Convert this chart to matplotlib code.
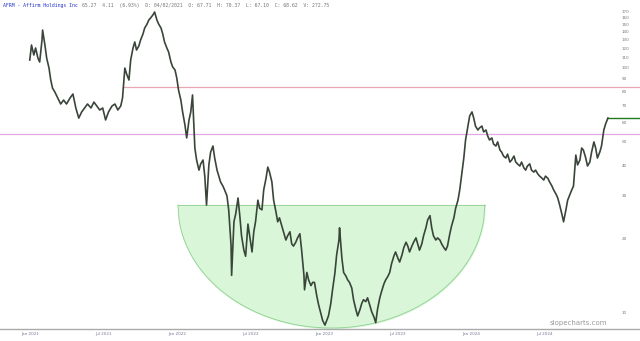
import numpy as np
import matplotlib
matplotlib.use('Agg')
import matplotlib.pyplot as plt

# торговые дни от начала ряда и цены закрытия
bar = [0, 3, 7, 10, 14, 17, 21, 22, 26, 29, 33, 36, 39, 43, 48, 53, 58, 63, 69, 74,
       79, 84, 89, 94, 99, 105, 110, 115, 120, 125, 130, 135, 141, 146, 151, 156, 159,
       163, 166, 170, 173, 177, 180, 183, 187, 190, 194, 197, 201, 204, 207, 211, 214,
       218, 221, 225, 228, 231, 235, 238, 242, 245, 249, 252, 255, 259, 262, 266, 269,
       273, 276, 279, 283, 286, 290, 293, 297, 300, 303, 307, 310, 314, 317, 321, 324,
       327, 331, 334, 338, 341, 345, 346, 350, 353, 357, 360, 363, 367, 370, 374, 377,
       381, 384, 387, 391, 394, 398, 401, 405, 408, 411, 415, 418, 422, 425, 428, 432,
       435, 439, 442, 446, 449, 452, 456, 459, 463, 466, 470, 471, 475, 478, 482, 485,
       488, 492, 495, 499, 502, 506, 509, 512, 516, 519, 523, 526, 530, 531, 535, 538,
       542, 545, 548, 552, 555, 559, 562, 566, 569, 572, 576, 579, 583, 586, 590, 593,
       596, 600, 603, 607, 610, 614, 617, 620, 624, 627, 631, 634, 638, 641, 645, 648,
       651, 655, 658, 662, 665, 668, 672, 675, 679, 682, 686, 689, 692, 696, 699, 703,
       706, 710, 713, 716, 720, 723, 727, 730, 734, 737, 740, 744, 747, 751, 754, 758,
       761, 764, 768, 771, 775, 778, 782, 785, 788, 792, 795, 799, 802, 806, 809, 812,
       816, 819, 823, 826, 830, 833, 836, 840, 843, 847, 850, 853, 857, 860, 864, 867,
       871, 874, 878, 881, 884, 888, 891, 895, 898, 902, 905, 908, 912, 915, 919, 922,
       925, 929, 932, 936, 939, 943, 946, 949, 953, 956, 960, 963, 967, 970, 973, 977,
       980, 984, 987, 991]

close = [107.5, 123.8, 112.7, 120.4, 109.5, 105.5, 129.8, 142.5, 123.8, 109.5, 99.7,
         89.1, 82.6, 79.6, 75.2, 71.1, 73.8, 71.1, 75.2, 78.1, 68.5, 62.3, 66.0, 68.5,
         71.1, 68.5, 72.4, 69.8, 67.2, 68.5, 61.2, 66.0, 69.8, 71.1, 67.2, 69.8, 75.2,
         99.7, 94.3, 89.1, 107.5, 120.4, 127.4, 118.1, 122.7, 129.8, 137.2, 145.2, 150.7,
         156.5, 159.5, 164.1, 168.8, 156.5, 150.7, 145.2, 137.2, 127.4, 120.4, 115.9,
         105.5, 100.7, 97.9, 90.8, 81.1, 73.8, 66.0, 58.4, 51.7, 61.2, 66.0, 77.4, 47.0,
         42.0, 38.2, 40.5, 42.0, 36.1, 27.5, 40.1, 45.2, 47.9, 42.8, 38.2, 36.1, 34.2,
         32.9, 31.7, 30.0, 26.3, 18.9, 14.2, 23.5, 25.3, 29.4, 24.9, 20.6, 18.0, 17.0,
         23.0, 20.6, 17.7, 21.4, 23.5, 28.8, 26.7, 26.3, 31.7, 35.4, 39.3, 37.5, 34.2,
         28.8, 25.8, 23.5, 24.4, 22.6, 21.4, 19.8, 20.6, 21.4, 19.1, 18.7, 19.4, 20.2,
         21.0, 18.0, 14.2, 12.4, 14.6, 13.6, 12.9, 13.3, 13.3, 11.7, 10.8, 9.9, 9.3, 8.9,
         9.3, 9.7, 10.9, 12.4, 14.5, 17.2, 19.8, 22.2, 16.7, 14.6, 14.1, 13.6, 13.3, 12.6,
         11.3, 10.3, 9.7, 10.3, 10.9, 11.3, 11.1, 11.5, 10.7, 10.1, 9.6, 9.1, 10.3, 11.5,
         12.2, 13.1, 13.6, 14.1, 14.6, 15.8, 17.0, 17.7, 16.7, 16.1, 17.2, 18.4, 19.4,
         18.7, 17.7, 18.7, 19.4, 20.2, 19.1, 18.0, 19.1, 20.6, 22.2, 23.9, 24.9, 22.2,
         20.6, 19.8, 20.2, 19.8, 19.1, 18.4, 18.0, 18.7, 21.0, 22.6, 24.4, 26.7, 28.8,
         31.7, 36.1, 42.8, 50.7, 57.8, 63.5, 66.0, 62.3, 57.8, 55.7, 56.8, 57.8, 54.7,
         55.7, 52.6, 50.7, 51.7, 48.8, 47.9, 49.8, 46.1, 45.2, 43.6, 42.8, 44.4, 41.2,
         42.0, 43.6, 41.2, 40.5, 39.7, 41.2, 39.0, 38.2, 39.7, 40.5, 38.2, 37.5, 38.2,
         36.8, 36.1, 35.4, 34.8, 36.1, 35.4, 34.2, 32.9, 31.7, 30.5, 29.4, 27.7, 25.3,
         23.5, 26.3, 28.8, 30.0, 31.7, 32.9, 44.0, 40.1, 42.0, 47.0, 46.1, 42.8, 39.7,
         41.2, 45.2, 49.8, 47.0, 42.8, 45.2, 47.9, 55.7, 58.9, 62.3]

# уровни и "чаша"
resist_level = 83.4
resist_start = 159
support_level = 53.6
bowl_left, bowl_right = 254, 780
bowl_top, bowl_bottom = 27.5, 8.66

ytick_values = [10, 20, 30, 40, 50, 60, 70, 80, 90, 100, 110, 120, 130, 140, 150, 160, 170]
xtick_pos = [1, 127, 253, 379, 505, 631, 757, 883]
xtick_labels = ['Jan 2021', 'Jul 2021', 'Jan 2022', 'Jul 2022',
                'Jan 2023', 'Jul 2023', 'Jan 2024', 'Jul 2024']

fig = plt.figure(figsize=(6.4, 3.41), dpi=100)
ax = fig.add_axes([0, 12 / 341, 1, 329 / 341])
ax.set_yscale('log')
ax.set_xlim(-51, 1046)
ax.set_ylim(8.58, 189)

# полуэллипс (в лог-шкале это эллипс на экране)
t = np.linspace(-1, 1, 300)
bx = (bowl_left + bowl_right) / 2 + (bowl_right - bowl_left) / 2 * t
lt, lb = np.log10(bowl_top), np.log10(bowl_bottom)
by = 10 ** (lt - (lt - lb) * np.sqrt(1 - t ** 2))
ax.fill_between(bx, by, bowl_top, color='#d9f6d9', zorder=1)
ax.plot(bx, by, color='#8fd08f', lw=0.6, zorder=1.5)
ax.plot([bowl_left, bowl_right], [bowl_top, bowl_top], color='#8fd08f', lw=0.6, zorder=1.5)

# горизонтальные линии
ax.plot([resist_start, 1046], [resist_level, resist_level], color='#e8a6b0', lw=0.9, zorder=2)
ax.axhline(support_level, color='#e2a8e6', lw=0.9, zorder=2)
ax.plot([bar[-1], 1046], [close[-1], close[-1]], color='#1f7a1f', lw=1.0, zorder=3)

# ценовой ряд
ax.plot(bar, close, color='#3a453a', lw=1.2, zorder=4)

# оси
for s in ['top', 'left', 'right']:
    ax.spines[s].set_visible(False)
ax.spines['bottom'].set_color('#aaaaaa')
ax.spines['bottom'].set_linewidth(1.0)

ax.yaxis.tick_right()
ax.yaxis.set_minor_locator(matplotlib.ticker.NullLocator())
ax.set_yticks(ytick_values)
ax.set_yticklabels([str(v) for v in ytick_values])
ax.tick_params(axis='y', length=0, pad=-13, labelsize=3, labelcolor='#777777')
ax.set_xticks(xtick_pos)
ax.set_xticklabels(xtick_labels)
ax.tick_params(axis='x', length=0, pad=2, labelsize=3, labelcolor='#777799')

# заголовок и водяной знак
fig.text(0.005, 0.992, 'AFRM - Affirm Holdings Inc', fontsize=3.5, family='DejaVu Sans Mono',
         color='#2233cc', va='top', ha='left')
fig.text(0.128, 0.992, '65.27  4.11  (6.93%)  D: 04/02/2021  O: 67.71  H: 70.37  L: 67.10  C: 68.62  V: 272.75',
         fontsize=3.5, family='DejaVu Sans Mono', color='#777777', va='top', ha='left')
fig.text(0.948, 0.045, 'slopecharts.com', fontsize=5, color='#999999',
         ha='right', va='bottom')

fig.savefig('out.png', dpi=100)
